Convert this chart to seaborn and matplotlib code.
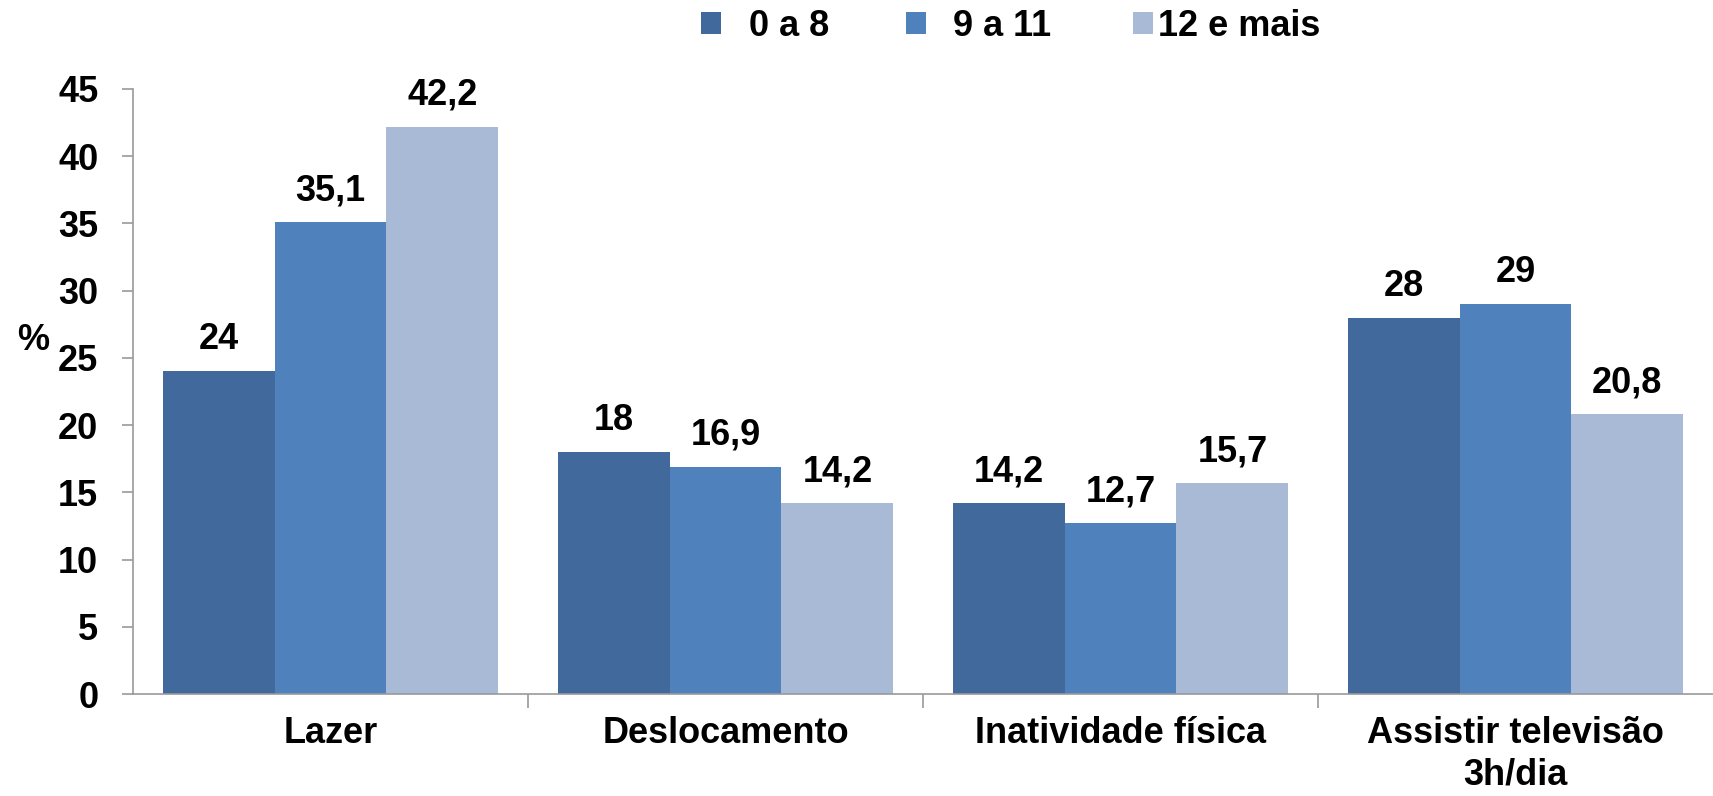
import pandas as pd
import matplotlib.pyplot as plt
import seaborn as sns
from matplotlib.patches import Patch

sns.set_theme(style="white")
plt.rcParams['font.family'] = ['Liberation Sans', 'DejaVu Sans']
plt.rcParams['font.weight'] = 'bold'
plt.rcParams['text.color'] = 'black'

# dados
categorias = ["Lazer", "Deslocamento", "Inatividade física", "Assistir televisão\n3h/dia"]
grupos = ["0 a 8", "9 a 11", "12 e mais"]
v_0a8 = [24, 18, 14.2, 28]
v_9a11 = [35.1, 16.9, 12.7, 29]
v_12mais = [42.2, 14.2, 15.7, 20.8]
cores = ["#41699C", "#4F81BD", "#A9BAD7"]

df = pd.DataFrame({
    "categoria": categorias * 3,
    "grupo": [g for g in grupos for _ in categorias],
    "valor": v_0a8 + v_9a11 + v_12mais,
})

W, H = 1713, 796
fig = plt.figure(figsize=(W / 100, H / 100), dpi=100)
ax = fig.add_axes([133 / W, 1 - 694 / H, 1 - 133 / W, (694 - 89) / H])

sns.barplot(data=df, x="categoria", y="valor", hue="grupo", order=categorias,
            hue_order=grupos, palette=cores, width=0.85, gap=0, saturation=1,
            errorbar=None, ax=ax, legend=False, linewidth=0)

# rótulos de valor (vírgula decimal)
for cont in ax.containers:
    ax.bar_label(cont, labels=[f"{b.get_height():g}".replace(".", ",") for b in cont],
                 padding=10, fontsize=26, fontweight="bold", color="black")

ax.set_ylim(0, 45)
ax.set_yticks(range(0, 46, 5))
ax.set_xlim(-0.5, 3.5)
ax.set_xlabel("")
ax.set_ylabel("%", rotation=0, fontsize=26, fontweight="bold", color="black",
              ha="center", va="center")
ax.yaxis.set_label_coords(-0.0634, 0.585)

ax.tick_params(axis="y", direction="out", length=8, width=1.2, color="#999999",
               labelsize=26, pad=17, left=True, labelcolor="black")
ax.tick_params(axis="x", which="major", length=0, labelsize=26, pad=16, labelcolor="black")
ax.set_xticks([0.5, 1.5, 2.5], minor=True)
ax.tick_params(axis="x", which="minor", direction="out", length=10, width=1.2,
               color="#999999", bottom=True)
for lbl in ax.get_xticklabels() + ax.get_yticklabels():
    lbl.set_fontweight("bold")
for lbl in ax.get_xticklabels():
    lbl.set_linespacing(1.25)

for s in ["top", "right"]:
    ax.spines[s].set_visible(False)
for s in ["left", "bottom"]:
    ax.spines[s].set_color("#999999")
    ax.spines[s].set_linewidth(1.2)

# legenda no topo (uma entrada por vez, espaçamento como no original)
leg_x = [701, 906, 1133]
leg_pad = [0.78, 0.75, 0.14]
for g, c, x, p in zip(grupos, cores, leg_x, leg_pad):
    fig.legend([Patch(facecolor=c, edgecolor="none")], [g], loc="center left",
               bbox_to_anchor=(x / W, 1 - 26 / H), frameon=False, borderpad=0,
               borderaxespad=0, handlelength=0.56, handleheight=0.56,
               handletextpad=p, prop={"weight": "bold", "size": 26})

fig.savefig("out.png", dpi=100)
